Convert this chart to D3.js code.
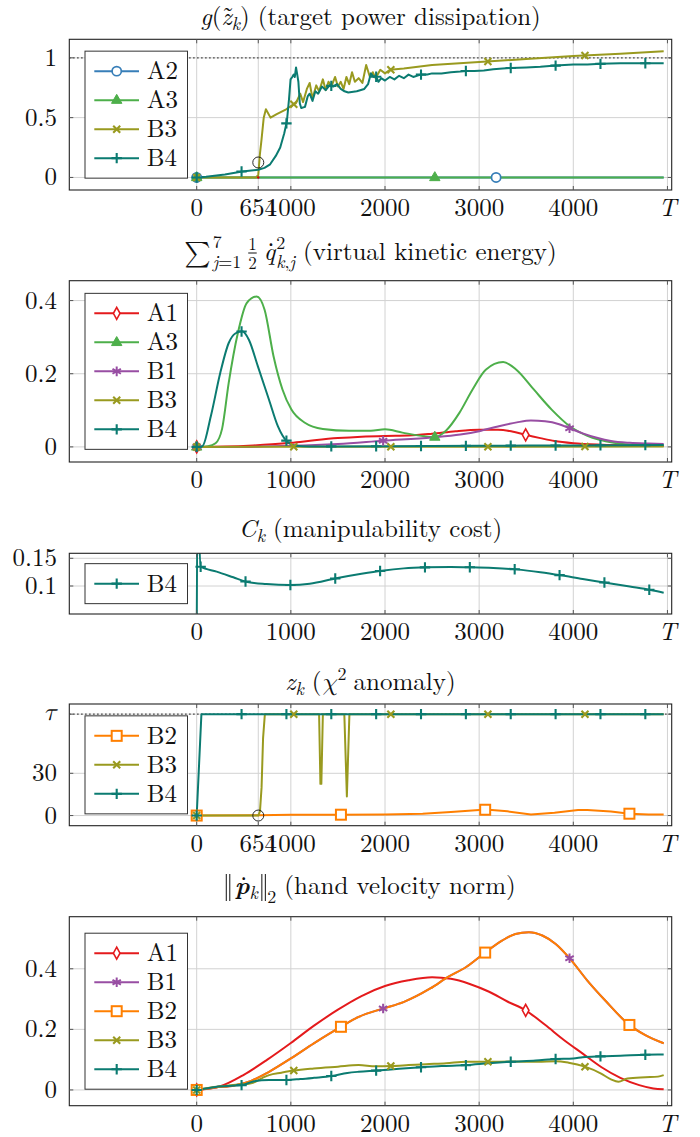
<!DOCTYPE html>
<html><head><meta charset="utf-8">
<script src="https://cdn.jsdelivr.net/npm/d3@7"></script>
<style>body{margin:0;background:#fff;}</style>
</head><body>
<svg id="chart" width="700" height="1137"></svg>
<script>
// ---------------- DATA ----------------
const T_VAL = 5000;
const EVENT_X = 654;
const TAU = 72;
const xTickVals = [0, 1000, 2000, 3000, 4000];
const xTickLabels = ["0", "1000", "2000", "3000", "4000"];
const xTickValsEvent = [0, 654, 1000, 2000, 3000, 4000];
const xTickLabelsEvent = ["0", "654", "1000", "2000", "3000", "4000"];

// panel 1: g(z~k)
const g_A2 = [[0,0],[4960,0]];
const g_A3 = [[0,0],[4960,0]];
const g_B3 = [[0,0],[630,0],[654,0.02],[672,0.2],[689,0.32],[712,0.5],[735,0.57],[784,0.5],[850,0.53],[950,0.57],[1024,0.61],[1053,0.62],[1100,0.70],[1130,0.63],[1170,0.74],[1200,0.79],[1230,0.66],[1270,0.77],[1300,0.72],[1340,0.82],[1370,0.73],[1400,0.80],[1430,0.76],[1470,0.84],[1500,0.76],[1530,0.80],[1560,0.74],[1590,0.84],[1620,0.78],[1650,0.88],[1680,0.80],[1720,0.83],[1760,0.79],[1800,0.94],[1840,0.84],[1870,0.88],[1900,0.83],[1950,0.90],[2000,0.87],[2053,0.90],[2200,0.91],[2500,0.94],[3000,0.965],[3500,0.99],[4000,1.015],[4500,1.035],[4960,1.055]];
const g_B4 = [[0,0],[100,0.005],[300,0.025],[483,0.05],[654,0.065],[720,0.08],[780,0.11],[840,0.18],[887,0.25],[930,0.37],[958,0.47],[980,0.65],[997,0.82],[1015,0.84],[1030,0.86],[1042,0.84],[1055,0.92],[1068,0.86],[1080,0.80],[1095,0.62],[1110,0.58],[1150,0.59],[1180,0.68],[1200,0.70],[1230,0.64],[1260,0.72],[1290,0.70],[1330,0.76],[1370,0.73],[1411,0.77],[1450,0.76],[1490,0.78],[1530,0.74],[1570,0.72],[1610,0.71],[1700,0.72],[1780,0.74],[1820,0.78],[1850,0.87],[1880,0.84],[1901,0.85],[1930,0.80],[1960,0.83],[2000,0.81],[2050,0.84],[2100,0.82],[2150,0.85],[2200,0.83],[2250,0.86],[2300,0.84],[2377,0.86],[2450,0.86],[2500,0.87],[2600,0.87],[2700,0.88],[2800,0.885],[2862,0.89],[2950,0.89],[3050,0.895],[3150,0.905],[3250,0.91],[3337,0.915],[3500,0.92],[3650,0.925],[3813,0.935],[4000,0.944],[4150,0.945],[4290,0.95],[4500,0.955],[4765,0.955],[4960,0.955]];

// panel 2: kinetic energy
const ke_A1 = [[0,0],[300,0.001],[600,0.004],[800,0.007],[1000,0.011],[1250,0.018],[1500,0.024],[1750,0.028],[2000,0.03],[2250,0.031],[2500,0.036],[2750,0.043],[3000,0.047],[3200,0.047],[3350,0.042],[3494,0.033],[3650,0.024],[3800,0.016],[4000,0.01],[4300,0.006],[4600,0.004],[4960,0.003]];
const ke_A3 = [[0,0],[120,0.002],[200,0.01],[270,0.05],[340,0.175],[436,0.31],[531,0.393],[636,0.411],[721,0.375],[816,0.248],[911,0.157],[1006,0.102],[1149,0.066],[1340,0.049],[1620,0.044],[1850,0.044],[2000,0.048],[2185,0.039],[2420,0.029],[2529,0.027],[2650,0.045],[2790,0.093],[2930,0.157],[3070,0.211],[3255,0.232],[3395,0.211],[3580,0.157],[3770,0.102],[3960,0.057],[4150,0.03],[4430,0.011],[4700,0.005],[4960,0.003]];
const ke_B1 = [[0,0],[500,0],[800,0.002],[1000,0.003],[1500,0.008],[1982,0.017],[2500,0.026],[2800,0.034],[3000,0.043],[3200,0.056],[3400,0.067],[3550,0.072],[3700,0.07],[3850,0.062],[3960,0.051],[4100,0.037],[4250,0.025],[4400,0.016],[4600,0.011],[4800,0.009],[4960,0.008]];
const ke_B3 = [[0,0],[4960,0.001]];
const ke_B4 = [[0,0],[60,0.002],[150,0.084],[250,0.202],[340,0.284],[410,0.31],[483,0.316],[554,0.293],[650,0.22],[768,0.129],[863,0.056],[958,0.015],[1053,0.003],[1200,0.001],[2000,0.002],[3000,0.003],[4000,0.004],[4960,0.005]];

// panel 3: manipulability cost
const mc_B4 = [[0,0],[8,0.25],[42,0.1348],[212,0.126],[389,0.1157],[523,0.1078],[742,0.1036],[990,0.1018],[1200,0.104],[1482,0.1139],[1750,0.122],[1967,0.1276],[2200,0.1318],[2442,0.1338],[2700,0.1345],[2919,0.1338],[3150,0.1325],[3394,0.130],[3650,0.125],[3870,0.1193],[4100,0.1125],[4345,0.106],[4600,0.099],[4821,0.0928],[4960,0.088]];

// panel 4: chi^2 anomaly
const z_B2 = [[0,0],[654,0.3],[1000,0.5],[1500,0.6],[2000,0.7],[2400,1.3],[2700,2.6],[3000,4.0],[3100,4.2],[3300,3.0],[3550,0.8],[3800,2.0],[4050,3.9],[4150,4.0],[4400,2.8],[4598,1.3],[4800,0.8],[4960,0.8]];
const z_B3 = [[0,0],[654,0],[672,3],[689,20],[705,55],[724,72],[1300,72],[1314,22.5],[1324,22.5],[1340,72],[1568,72],[1595,13.5],[1622,72],[4960,72]];
const z_B4 = [[0,0],[50,72],[4960,72]];

// panel 5: hand velocity norm
const v_A1 = [[0,0],[250,0.012],[500,0.05],[750,0.1],[1000,0.155],[1250,0.213],[1500,0.265],[1750,0.31],[2000,0.343],[2250,0.362],[2500,0.372],[2700,0.367],[2900,0.35],[3100,0.325],[3300,0.292],[3494,0.263],[3700,0.215],[3900,0.165],[4100,0.12],[4300,0.075],[4500,0.04],[4700,0.016],[4850,0.005],[4960,0.002]];
const v_B1 = [[0,0],[200,0.008],[400,0.015],[578,0.03],[769,0.06],[1000,0.104],[1244,0.154],[1540,0.21],[1720,0.241],[1982,0.269],[2196,0.29],[2481,0.335],[2670,0.373],[2862,0.406],[3057,0.452],[3243,0.493],[3385,0.515],[3528,0.521],[3671,0.51],[3813,0.482],[3966,0.433],[4147,0.362],[4337,0.296],[4598,0.214],[4765,0.181],[4960,0.154]];
const v_B2 = [[0,0],[200,0.008],[400,0.015],[578,0.03],[769,0.06],[1000,0.104],[1244,0.154],[1540,0.21],[1720,0.241],[1982,0.269],[2196,0.29],[2481,0.335],[2670,0.373],[2862,0.406],[3057,0.452],[3243,0.493],[3385,0.515],[3528,0.521],[3671,0.51],[3813,0.482],[3966,0.433],[4147,0.362],[4337,0.296],[4598,0.214],[4765,0.181],[4960,0.154]];
const v_B3 = [[0,0],[150,0.008],[388,0.016],[578,0.022],[700,0.04],[769,0.049],[900,0.057],[1030,0.064],[1244,0.071],[1500,0.077],[1720,0.082],[1900,0.078],[2063,0.079],[2250,0.082],[2434,0.085],[2650,0.088],[2862,0.093],[3092,0.093],[3350,0.094],[3624,0.093],[3813,0.095],[3950,0.09],[4123,0.077],[4290,0.055],[4400,0.035],[4479,0.027],[4575,0.038],[4765,0.042],[4900,0.044],[4960,0.049]];
const v_B4 = [[0,0],[200,0.01],[483,0.016],[600,0.028],[769,0.033],[958,0.033],[1100,0.036],[1244,0.04],[1435,0.046],[1600,0.056],[1720,0.06],[1910,0.064],[2150,0.07],[2385,0.075],[2600,0.079],[2862,0.082],[3100,0.088],[3337,0.093],[3600,0.097],[3813,0.102],[4000,0.104],[4099,0.108],[4290,0.111],[4500,0.113],[4765,0.116],[4960,0.117]];

// ---------------- STYLE ----------------
const FONT = "'Latin Modern Roman', 'Liberation Serif', serif";
const MATHF = "'Latin Modern Math', 'DejaVu Serif', serif";
const GREEKF = "'Latin Modern Math', 'Liberation Serif', serif";
const FS = 25;
const SUB = 18;
const colors = {A1:"#e41a1c", A2:"#377eb8", A3:"#4daf4a", B1:"#984ea3", B2:"#ff7f00", B3:"#999a1f", B4:"#0b7b71"};
const shapes = {A1:"diamond", A2:"circle", A3:"triangle", B1:"asterisk", B2:"square", B3:"cross", B4:"plus"};
const markStep = {A1:3494, A2:3180, A3:2529, B1:1980, B2:1532, B3:1031, B4:476.5};

const FRAME_L = 69.3, FRAME_R = 671.7;
const x = d3.scaleLinear().domain([0, T_VAL]).range([196.7, 667.45]);

const panels = [
  {top:39.3, bottom:190, yDomain:[-0.105,1.155], yTicks:[0,0.5,1], yLabels:["0","0.5","1"],
   xt:xTickValsEvent, xl:xTickLabelsEvent, curve:d3.curveLinear, ref:1, event:0.125, titleY:24.5,
   series:[["A2",g_A2],["A3",g_A3],["B3",g_B3],["B4",g_B4]],
   title:[{runs:[{t:"g",it:1},{t:"("}]},{runs:[{t:"z",it:1}],accent:"\u02dc"},{runs:[{t:"k",it:1}],size:SUB,dy:5},{runs:[{t:")"}]},{space:8},{runs:[{t:"(target power dissipation)"}]}]},
  {top:280.7, bottom:462, yDomain:[-0.0413,0.4543], yTicks:[0,0.2,0.4], yLabels:["0","0.2","0.4"],
   xt:xTickVals, xl:xTickLabels, curve:d3.curveMonotoneX, titleY:259.5,
   series:[["A1",ke_A1],["A3",ke_A3],["B1",ke_B1],["B3",ke_B3],["B4",ke_B4]],
   title:[{runs:[{t:"\u2211",f:MATHF}],size:25,dy:1},{space:2},{stack:[{runs:[{t:"7"}],size:SUB,dy:-12},{runs:[{t:"j",it:1},{t:"=1"}],size:SUB,dy:8}]},{space:7},
          {stack:[{runs:[{t:"1"}],size:17,dy:-10},{runs:[{t:"2"}],size:17,dy:9}],bar:true},{space:7},
          {runs:[{t:"q",it:1}],accent:"\u02d9"},{space:1},{stack:[{runs:[{t:"2"}],size:SUB,dy:-11},{runs:[{t:"k",it:1},{t:","},{t:"j",it:1}],size:SUB,dy:8}]},{space:8},
          {runs:[{t:"(virtual kinetic energy)"}]}]},
  {top:553.3, bottom:614, yDomain:[0.0495,0.159], yTicks:[0.1,0.15], yLabels:["0.1","0.15"],
   xt:xTickVals, xl:xTickLabels, curve:d3.curveMonotoneX, titleY:537, markStart:{B4:42},
   series:[["B4",mc_B4]],
   title:[{runs:[{t:"C",it:1}]},{runs:[{t:"k",it:1}],size:SUB,dy:5},{space:8},{runs:[{t:"(manipulability cost)"}]}]},
  {top:704, bottom:825.7, yDomain:[-7.2,79.2], yTicks:[0,30,TAU], yLabels:["0","30","\u03c4"],
   xt:xTickValsEvent, xl:xTickLabelsEvent, curve:d3.curveLinear, ref:TAU, event:0, titleY:689.5,
   series:[["B2",z_B2],["B3",z_B3],["B4",z_B4]],
   title:[{runs:[{t:"z",it:1}]},{runs:[{t:"k",it:1}],size:SUB,dy:5},{space:8},{runs:[{t:"("},{t:"\u03c7",it:1,f:GREEKF}]},{runs:[{t:"2"}],size:SUB,dy:-10},{space:7},{runs:[{t:"anomaly)"}]}]},
  {top:916.7, bottom:1105.7, yDomain:[-0.052,0.572], yTicks:[0,0.2,0.4], yLabels:["0","0.2","0.4"],
   xt:xTickVals, xl:xTickLabels, curve:d3.curveMonotoneX, titleY:894,
   series:[["A1",v_A1],["B1",v_B1],["B2",v_B2],["B3",v_B3],["B4",v_B4]],
   title:[{vbar:true},{space:3},{runs:[{t:"p",it:1,b:1}],accent:"\u02d9"},{runs:[{t:"k",it:1}],size:SUB,dy:5},{space:3},{vbar:true},{runs:[{t:"2"}],size:SUB,dy:9},{space:8},{runs:[{t:"(hand velocity norm)"}]}]}
];

// ---------------- DRAW ----------------
const svg = d3.select("#chart");

function txt(g) {
  return g.append("text").attr("font-family", FONT).attr("font-size", FS).attr("fill", "#111");
}

// a title is one <text>; pieces are tspans placed with dx/dy
function layoutTitle(cx, base, items) {
  const g = svg.append("g");
  const t = g.append("text").attr("x", 0).attr("y", base)
    .attr("font-family", FONT).attr("font-size", FS).attr("fill", "#111");
  let cur = 0, curDy = 0, pend = 0;
  function addRun(r, size, dy) {
    const ts = t.append("tspan").text(r.t).attr("font-size", size)
      .attr("font-style", r.it ? "italic" : "normal")
      .attr("font-weight", r.b ? "bold" : "normal")
      .attr("dx", pend).attr("dy", dy - curDy);
    if (r.f) ts.attr("font-family", r.f);
    pend = 0; curDy = dy;
    const w = ts.node().getComputedTextLength();
    cur += w;
    return ts;
  }
  function addItem(s) {
    const size = s.size || FS, dy = s.dy || 0;
    const start = cur;
    s.runs.forEach(r => addRun(r, size, dy));
    if (s.accent) {
      const w = cur - start;
      const ts = addRun({t: s.accent}, size, dy);
      const a = ts.node().getComputedTextLength();
      const target = start + w / 2 - a / 2 + 1.5;
      ts.attr("dx", target - (start + w));
      cur = target + a;
      pend += (start + w) - cur; cur = start + w;
    }
  }
  items.forEach(it => {
    if (it.space) { cur += it.space; pend += it.space; return; }
    if (it.vbar) {
      [0, 3.5].forEach(o => g.append("line").attr("x1", cur + 1 + o).attr("x2", cur + 1 + o)
        .attr("y1", base - 20).attr("y2", base + 7).attr("stroke", "#111").attr("stroke-width", 1));
      cur += 6.5; pend += 6.5; return;
    }
    if (it.stack) {
      const start = cur; let maxW = 0;
      it.stack.forEach(s => {
        pend += start - cur; cur = start;
        addItem(s);
        maxW = Math.max(maxW, cur - start);
      });
      if (it.bar) g.append("line").attr("x1", start).attr("x2", start + maxW)
        .attr("y1", base - 6.5).attr("y2", base - 6.5).attr("stroke", "#111").attr("stroke-width", 1);
      pend += start + maxW - cur; cur = start + maxW;
    } else {
      addItem(it);
    }
  });
  g.attr("transform", `translate(${cx - cur / 2},0)`);
}

function drawMarker(g, shape, color, mx, my) {
  const m = g.append("g").attr("transform", `translate(${mx},${my})`);
  switch (shape) {
    case "circle": m.append("circle").attr("r", 4.6).attr("fill", "#fff").attr("stroke", color).attr("stroke-width", 1.7); break;
    case "triangle": m.append("path").attr("d", "M0,-5.8L5.2,3.2L-5.2,3.2Z").attr("fill", color).attr("stroke", color).attr("stroke-width", 1); break;
    case "cross": m.append("path").attr("d", "M-3.5,-3.5L3.5,3.5M-3.5,3.5L3.5,-3.5").attr("stroke", color).attr("stroke-width", 2.1); break;
    case "plus": m.append("path").attr("d", "M-5.2,0H5.2M0,-5.2V5.2").attr("stroke", color).attr("stroke-width", 2.1); break;
    case "asterisk": m.append("path").attr("d", "M0,-4.8V4.8M-4.2,-2.4L4.2,2.4M-4.2,2.4L4.2,-2.4").attr("stroke", color).attr("stroke-width", 2); break;
    case "diamond": m.append("path").attr("d", "M0,-6L3.3,0L0,6L-3.3,0Z").attr("fill", "#fff").attr("stroke", color).attr("stroke-width", 1.6); break;
    case "square": m.append("rect").attr("x", -5).attr("y", -5).attr("width", 10).attr("height", 10).attr("fill", "#fff").attr("stroke", color).attr("stroke-width", 2); break;
  }
}

function interp(data, xv) {
  for (let i = 1; i < data.length; i++) {
    if (xv <= data[i][0]) {
      const [x0, y0] = data[i - 1], [x1, y1] = data[i];
      return x1 === x0 ? y1 : y0 + (y1 - y0) * (xv - x0) / (x1 - x0);
    }
  }
  return data[data.length - 1][1];
}

panels.forEach((p, pi) => {
  const y = d3.scaleLinear().domain(p.yDomain).range([p.bottom, p.top]);
  const g = svg.append("g");
  const clipId = "clip" + pi;
  svg.append("clipPath").attr("id", clipId).append("rect")
    .attr("x", FRAME_L).attr("y", p.top).attr("width", FRAME_R - FRAME_L).attr("height", p.bottom - p.top);

  // grid
  const xg = p.xt.concat([T_VAL]);
  g.selectAll(null).data(xg).join("line")
    .attr("x1", d => x(d)).attr("x2", d => x(d)).attr("y1", p.top).attr("y2", p.bottom)
    .attr("stroke", "#d2d2d2").attr("stroke-width", 1);
  g.selectAll(null).data(p.yTicks).join("line")
    .attr("x1", FRAME_L).attr("x2", FRAME_R).attr("y1", d => y(d)).attr("y2", d => y(d))
    .attr("stroke", "#d2d2d2").attr("stroke-width", 1);

  // reference dotted line
  if (p.ref !== undefined) {
    g.append("line").attr("x1", FRAME_L).attr("x2", FRAME_R).attr("y1", y(p.ref)).attr("y2", y(p.ref))
      .attr("stroke", "#111").attr("stroke-width", 1.4).attr("stroke-dasharray", "1.2,2.8");
  }

  // lines
  const line = d3.line().x(d => x(d[0])).y(d => y(d[1])).curve(p.curve);
  const lg = g.append("g").attr("clip-path", `url(#${clipId})`);
  p.series.forEach(([name, data]) => {
    lg.append("path").attr("d", line(data)).attr("fill", "none")
      .attr("stroke", colors[name]).attr("stroke-width", 2).attr("stroke-linejoin", "round");
  });
  // markers
  p.series.forEach(([name, data]) => {
    const start = (p.markStart && p.markStart[name] !== undefined) ? p.markStart[name] : 0;
    const xmax = data[data.length - 1][0];
    for (let xv = start; xv <= xmax + 0.1; xv += markStep[name]) {
      const yv = interp(data, xv);
      if (yv < p.yDomain[0] || yv > p.yDomain[1]) continue;
      drawMarker(lg, shapes[name], colors[name], x(xv), y(yv));
    }
  });

  // event annotation
  if (p.event !== undefined) {
    if (pi === 0) g.append("circle").attr("cx", x(EVENT_X)).attr("cy", y(0)).attr("r", 1.2).attr("fill", "#d00");
    g.append("circle").attr("cx", x(EVENT_X)).attr("cy", y(p.event)).attr("r", 5.5)
      .attr("fill", "none").attr("stroke", "#111").attr("stroke-width", 0.9);
  }

  // frame
  g.append("rect").attr("x", FRAME_L).attr("y", p.top).attr("width", FRAME_R - FRAME_L).attr("height", p.bottom - p.top)
    .attr("fill", "none").attr("stroke", "#222").attr("stroke-width", 1.1);
  // ticks
  xg.forEach(d => {
    g.append("line").attr("x1", x(d)).attr("x2", x(d)).attr("y1", p.bottom).attr("y2", p.bottom - 4).attr("stroke", "#555");
    g.append("line").attr("x1", x(d)).attr("x2", x(d)).attr("y1", p.top).attr("y2", p.top + 4).attr("stroke", "#555");
  });
  p.yTicks.forEach(d => {
    g.append("line").attr("x1", FRAME_L).attr("x2", FRAME_L + 4).attr("y1", y(d)).attr("y2", y(d)).attr("stroke", "#555");
    g.append("line").attr("x1", FRAME_R).attr("x2", FRAME_R - 4).attr("y1", y(d)).attr("y2", y(d)).attr("stroke", "#555");
  });

  // tick labels
  p.xt.forEach((d, i) => {
    txt(g).attr("x", x(d)).attr("y", p.bottom + 26).attr("text-anchor", "middle").text(p.xl[i]);
  });
  txt(g).attr("x", x(T_VAL)).attr("y", p.bottom + 26).attr("text-anchor", "middle")
    .attr("font-style", "italic").text("T");
  p.yTicks.forEach((d, i) => {
    const t = txt(g).attr("x", 57).attr("y", y(d) + 8).attr("text-anchor", "end").text(p.yLabels[i]);
    if (p.yLabels[i] === "\u03c4") t.attr("font-style", "italic").attr("font-family", GREEKF).attr("y", y(d) + 6);
  });

  // legend
  const n = p.series.length;
  const lh = 40 + (n - 1) * 29;
  const ly = (p.top + p.bottom) / 2 - lh / 2;
  const leg = g.append("g");
  leg.append("rect").attr("x", 85).attr("y", ly).attr("width", 102.5).attr("height", lh)
    .attr("fill", "#fff").attr("stroke", "#333").attr("stroke-width", 1);
  p.series.forEach(([name], i) => {
    const cy = ly + 20 + i * 29;
    leg.append("line").attr("x1", 94.3).attr("x2", 139).attr("y1", cy).attr("y2", cy)
      .attr("stroke", colors[name]).attr("stroke-width", 2);
    drawMarker(leg, shapes[name], colors[name], 116.7, cy);
    txt(leg).attr("x", 146.7).attr("y", cy + 8).text(name);
  });

  // title
  layoutTitle(370.5, p.titleY, p.title);
});
</script></body></html>
